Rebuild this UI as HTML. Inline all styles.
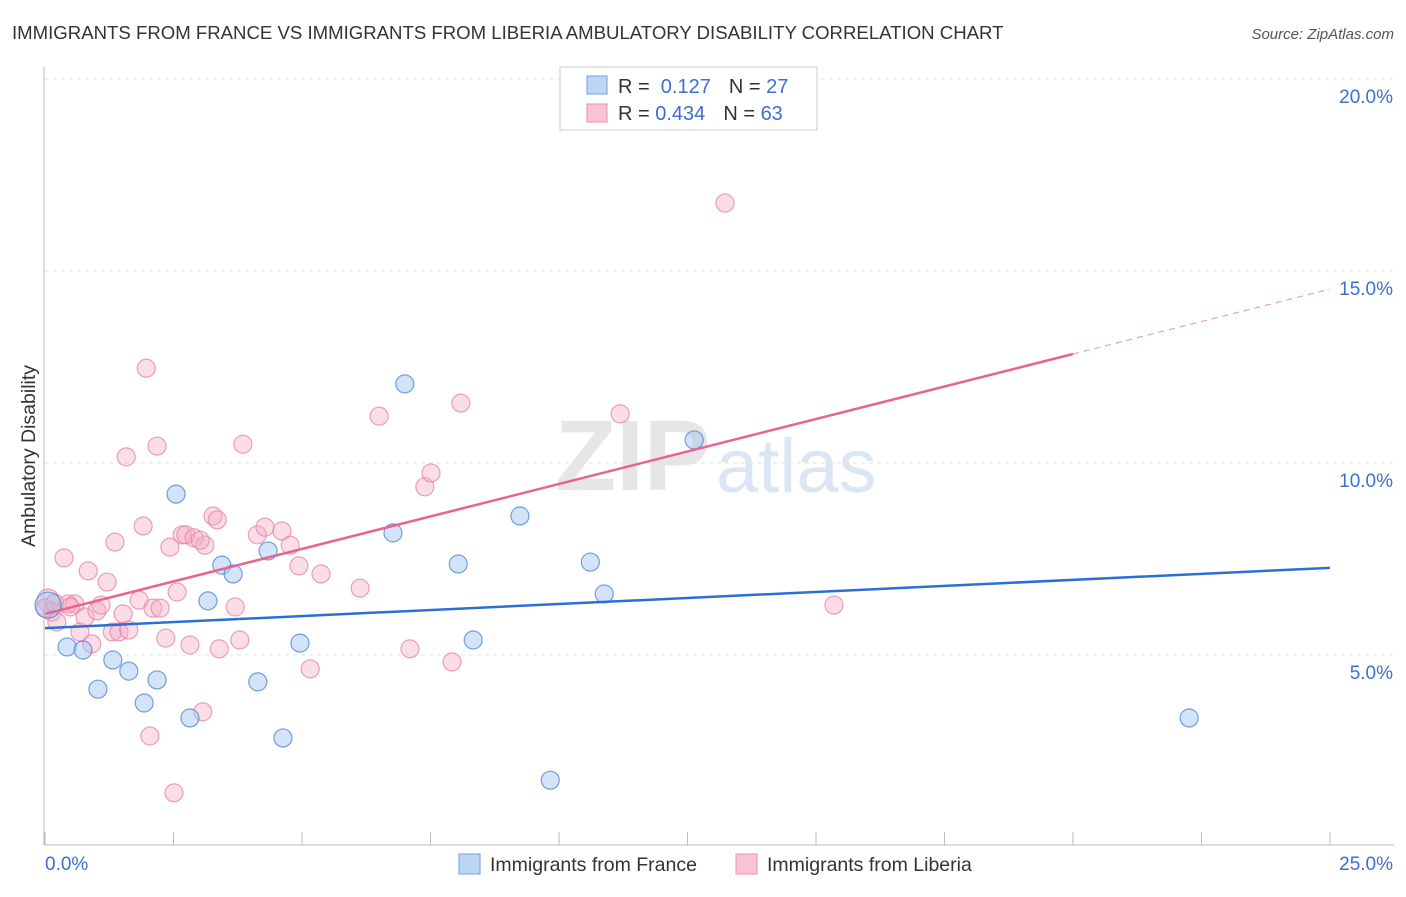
<!DOCTYPE html>
<html><head><meta charset="utf-8"><style>
body{margin:0;background:#fff;font-family:"Liberation Sans",sans-serif}
svg text{font-family:"Liberation Sans",sans-serif}
</style></head><body>
<svg id="chart" width="1406" height="892" xmlns="http://www.w3.org/2000/svg">
<text x="12" y="39" font-size="18.6" fill="#333">IMMIGRANTS FROM FRANCE VS IMMIGRANTS FROM LIBERIA AMBULATORY DISABILITY CORRELATION CHART</text>
<text x="1394" y="39" font-size="15" fill="#555" text-anchor="end" font-style="italic">Source: ZipAtlas.com</text>
<g>
<text x="555" y="490" font-size="100" fill="#e6e6e6" font-family="Liberation Serif" font-weight="bold">ZIP</text>
<text x="716" y="492" font-size="76" fill="#dbe6f4">atlas</text>
</g>
<g id="grid"></g>
<g id="axes"></g>
<g id="marks"></g>
<text transform="translate(35,456) rotate(-90)" font-size="19.5" fill="#333" text-anchor="middle">Ambulatory Disability</text>
<g>
<rect x="560" y="67" width="257" height="63" fill="#fff" stroke="#ccc"/>
<rect x="587" y="76" width="20" height="18" fill="#bcd5f5" stroke="#6f9fe0"/>
<rect x="587" y="104" width="20" height="18" fill="#f8c4d4" stroke="#ea8fac"/>
<text x="618" y="93" font-size="20" fill="#333">R = <tspan fill="#3c6fd0">&#160;0.127</tspan><tspan dx="18" fill="#333">N = </tspan><tspan fill="#3c6fd0">27</tspan></text>
<text x="618" y="120" font-size="20" fill="#333">R = <tspan fill="#3c6fd0">0.434</tspan><tspan dx="18" fill="#333">N = </tspan><tspan fill="#3c6fd0">63</tspan></text>
</g>
<g>
<rect x="459" y="854" width="21" height="20" fill="#bcd5f5" stroke="#6f9fe0"/>
<text x="490" y="871" font-size="19.5" fill="#333">Immigrants from France</text>
<rect x="736" y="854" width="21" height="20" fill="#f8c4d4" stroke="#ea8fac"/>
<text x="767" y="871" font-size="19.5" fill="#333">Immigrants from Liberia</text>
</g>
</svg>
<script>
const franceX=[0.06,0.43,0.74,1.03,1.32,1.63,1.93,2.18,2.55,2.82,3.17,3.44,3.66,4.14,4.34,4.63,4.96,6.77,7.00,8.04,8.33,9.24,9.83,10.61,10.88,12.63,22.26];
const franceY=[6.30,5.21,5.13,4.11,4.87,4.58,3.75,4.35,9.19,3.36,6.41,7.34,7.11,4.30,7.71,2.84,5.31,8.18,12.06,7.37,5.39,8.62,1.74,7.42,6.59,10.60,3.36];
const liberiaX=[0.06,0.14,0.23,0.37,0.45,0.58,0.68,0.78,0.84,0.91,1.01,1.09,1.21,1.31,1.36,1.44,1.52,1.58,1.63,1.83,1.91,1.97,2.10,2.18,2.24,2.35,2.43,2.51,2.57,2.67,2.74,2.82,2.90,3.07,3.11,3.27,3.35,3.39,3.70,3.79,3.85,4.13,4.28,4.61,4.77,4.94,5.16,5.37,6.13,6.50,7.10,7.39,7.51,7.92,8.09,11.19,13.23,15.35,2.04,0.00,0.19,0.49,3.02];
const liberiaY=[6.43,6.12,5.86,7.53,6.33,6.33,5.60,5.99,7.19,5.29,6.15,6.30,6.90,5.60,7.94,5.60,6.07,10.16,5.65,6.43,8.36,12.47,6.22,10.44,6.22,5.44,7.81,1.41,6.64,8.13,8.13,5.26,8.05,3.52,7.86,8.62,8.52,5.16,6.25,5.39,10.49,8.13,8.33,8.23,7.86,7.32,4.64,7.11,6.74,11.22,5.16,9.38,9.74,4.82,11.56,11.28,16.77,6.30,2.89,6.22,6.35,6.25,7.99];
const yTicks=[5,10,15,20];
const yTickLabels=["5.0%","10.0%","15.0%","20.0%"];
const xTicks=[0,2.5,5,7.5,10,12.5,15,17.5,20,22.5,25];
const franceTrend=[5.70,7.27];
const liberiaTrend=[6.07,14.53];
const liberiaSolidEnd=20;

const NS="http://www.w3.org/2000/svg";
const X=v=>45+v*(1285/25);
const Y=v=>847-v*38.4;
function mk(tag,attrs,parent){const e=document.createElementNS(NS,tag);for(const k in attrs)e.setAttribute(k,attrs[k]);parent.appendChild(e);return e;}
const grid=document.getElementById('grid'),axes=document.getElementById('axes'),marks=document.getElementById('marks');
yTicks.forEach((t,i)=>{
 const l=mk('line',{x1:45,x2:1394,y1:Y(t),y2:Y(t),stroke:'#e2e2e2','stroke-width':1,'stroke-dasharray':'4,4'},grid);
 
 
 const tx=mk('text',{x:1393,y:Y(t)+24,'font-size':19,fill:'#3c6fd0','text-anchor':'end'},axes);
 tx.textContent=yTickLabels[i];
 
 
});
const ax=mk('line',{x1:44,x2:44,y1:67,y2:845,stroke:'#bbb'},axes);


const bx=mk('line',{x1:44,x2:1394,y1:845,y2:845,stroke:'#bbb'},axes);


xTicks.forEach(t=>{
 const l=mk('line',{x1:X(t),x2:X(t),y1:832,y2:845,stroke:'#bbb'},axes);
 
 
});
const xl0=mk('text',{x:45,y:870,'font-size':19,fill:'#3c6fd0'},axes);xl0.textContent=xTicks[0].toFixed(1)+'%';


const xl1=mk('text',{x:1393,y:870,'font-size':19,fill:'#3c6fd0','text-anchor':'end'},axes);xl1.textContent=xTicks[xTicks.length-1].toFixed(1)+'%';



liberiaX.forEach((x,i)=>{
 const c=mk('circle',{cx:X(x),cy:Y(liberiaY[i]),r:i==0?11:9,fill:'rgba(245,170,195,0.4)',stroke:'rgba(230,130,165,0.75)','stroke-width':1.2},marks);
 
 
});
franceX.forEach((x,i)=>{
 const c=mk('circle',{cx:X(x),cy:Y(franceY[i]),r:i==0?13:9,fill:'rgba(160,195,240,0.45)',stroke:'rgba(80,135,215,0.8)','stroke-width':1.2},marks);
 
 
});
const ft=mk('line',{x1:X(0),y1:Y(franceTrend[0]),x2:X(25),y2:Y(franceTrend[1]),stroke:'#2b6fd6','stroke-width':2.5},marks);


const lm=liberiaTrend[0]+(liberiaTrend[1]-liberiaTrend[0])*liberiaSolidEnd/25;
const lt=mk('line',{x1:X(0),y1:Y(liberiaTrend[0]),x2:X(liberiaSolidEnd),y2:Y(lm),stroke:'#e8638f','stroke-width':2.5},marks);


const ld=mk('line',{x1:X(liberiaSolidEnd),y1:Y(lm),x2:X(25),y2:Y(liberiaTrend[1]),stroke:'#e8a0b8','stroke-width':1.2,'stroke-dasharray':'6,5'},marks);


</script>
</body></html>
